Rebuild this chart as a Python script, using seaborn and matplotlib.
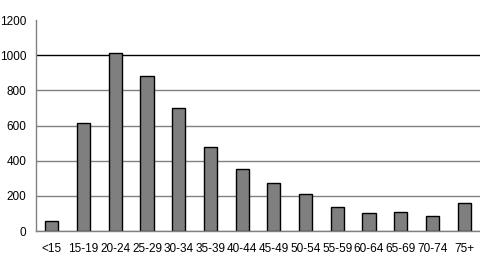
import matplotlib
matplotlib.use("Agg")
import matplotlib.pyplot as plt
import seaborn as sns
import pandas as pd

# age groups and counts
age_groups = ["<15", "15-19", "20-24", "25-29", "30-34", "35-39", "40-44",
              "45-49", "50-54", "55-59", "60-64", "65-69", "70-74", "75+"]
counts = [55, 615, 1010, 880, 700, 480, 355, 275, 210, 138, 105, 108, 85, 160]
y_ticks = [0, 200, 400, 600, 800, 1000, 1200]

df = pd.DataFrame({"Age": age_groups, "Count": counts})

sns.set_style("white")
plt.rcParams["font.family"] = ["Liberation Sans", "DejaVu Sans"]

fig = plt.figure(figsize=(4.8, 2.64), dpi=100)
ax = fig.add_axes([0.075, 0.125, 0.925, 0.799])

sns.barplot(data=df, x="Age", y="Count", color="#7f7f7f", saturation=1,
            edgecolor="black", linewidth=1, width=0.41, ax=ax)

ax.set_ylim(0, 1200)
ax.set_xlim(-0.5, len(age_groups) - 0.5)
ax.set_yticks(y_ticks)
ax.set_axisbelow(True)
ax.grid(axis="y", color="#808080", linewidth=1)
gl = ax.get_ygridlines()
gl[5].set_color("black")   # the 1000 line is black in the original
gl[6].set_visible(False)

# tick marks between the categories
ax.set_xticks([i + 0.5 for i in range(len(age_groups) - 1)], minor=True)
ax.tick_params(axis="x", which="major", length=0, pad=9, labelsize=8.5,
               labelcolor="black")
ax.tick_params(axis="x", which="minor", length=4, color="#808080", width=1)
ax.tick_params(axis="y", length=3, color="#808080", width=1, labelsize=8.5,
               pad=4, labelcolor="black")

for s in ["top", "right"]:
    ax.spines[s].set_visible(False)
for s in ["left", "bottom"]:
    ax.spines[s].set_color("#808080")
    ax.spines[s].set_linewidth(1)

ax.set_xlabel("")
ax.set_ylabel("")

fig.savefig("out.png", dpi=100)
